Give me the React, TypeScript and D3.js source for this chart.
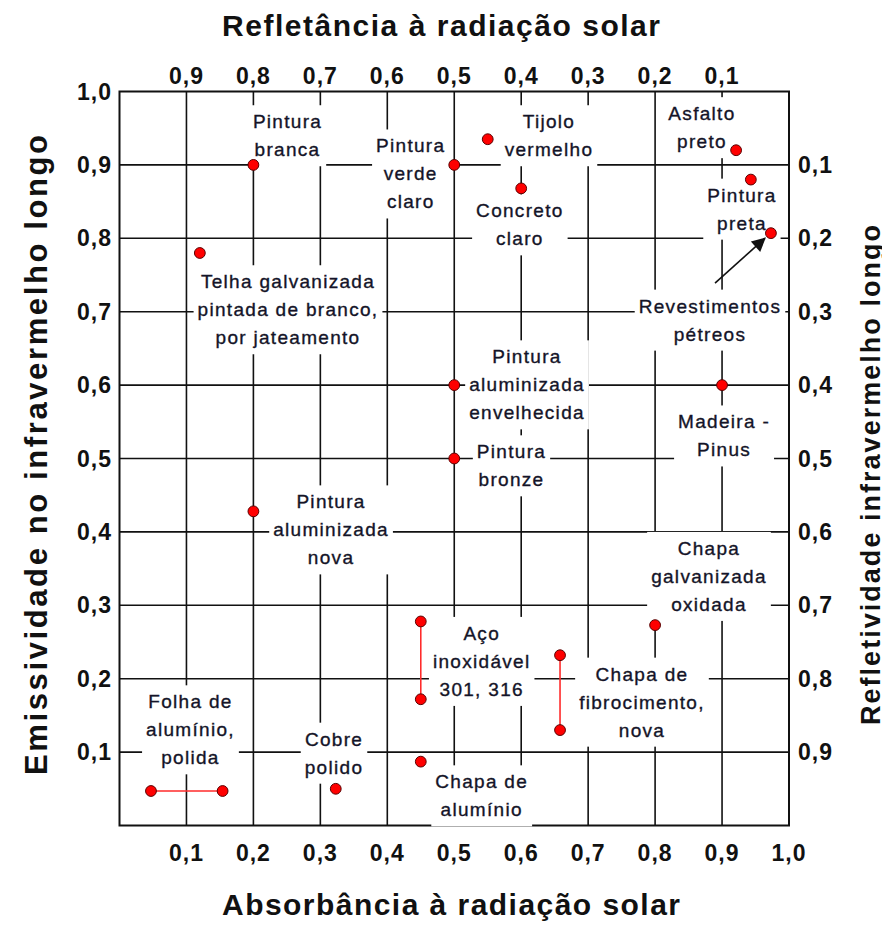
import React, { useEffect, useRef } from "react";
import * as d3 from "d3";

const W = 890;
const H = 925;

// Axis ticks
const gridValues = [0.1, 0.2, 0.3, 0.4, 0.5, 0.6, 0.7, 0.8, 0.9];
const absorbanceTickValues = [0.1, 0.2, 0.3, 0.4, 0.5, 0.6, 0.7, 0.8, 0.9, 1.0];
const absorbanceTickLabels = ["0,1", "0,2", "0,3", "0,4", "0,5", "0,6", "0,7", "0,8", "0,9", "1,0"];
const reflectanceTickValues = [0.1, 0.2, 0.3, 0.4, 0.5, 0.6, 0.7, 0.8, 0.9];
const reflectanceTickLabels = ["0,9", "0,8", "0,7", "0,6", "0,5", "0,4", "0,3", "0,2", "0,1"];
const emissivityTickValues = [1.0, 0.9, 0.8, 0.7, 0.6, 0.5, 0.4, 0.3, 0.2, 0.1];
const emissivityTickLabels = ["1,0", "0,9", "0,8", "0,7", "0,6", "0,5", "0,4", "0,3", "0,2", "0,1"];
const reflectivityTickValues = [0.9, 0.8, 0.7, 0.6, 0.5, 0.4, 0.3, 0.2, 0.1];
const reflectivityTickLabels = ["0,1", "0,2", "0,3", "0,4", "0,5", "0,6", "0,7", "0,8", "0,9"];

// Material points (absorbance, emissivity)
const pointAbsorbance = [0.2, 0.12, 0.5, 0.55, 0.6, 0.921, 0.943, 0.973, 0.5, 0.5, 0.9, 0.2, 0.8, 0.45, 0.45, 0.658, 0.658, 0.45, 0.323, 0.047, 0.154];
const pointEmissivity = [0.9, 0.78, 0.9, 0.935, 0.868, 0.92, 0.88, 0.807, 0.6, 0.5, 0.6, 0.428, 0.273, 0.278, 0.172, 0.232, 0.13, 0.087, 0.05, 0.047, 0.047];
// Pairs of point indices joined by a red range line
const rangePairs: [number, number][] = [[13, 14], [15, 16], [19, 20]];

// Material labels
const labelTexts: string[][] = [
  ["Pintura", "branca"],
  ["Pintura", "verde", "claro"],
  ["Tijolo", "vermelho"],
  ["Concreto", "claro"],
  ["Asfalto", "preto"],
  ["Pintura", "preta"],
  ["Revestimentos", "pétreos"],
  ["Telha galvanizada", "pintada de branco,", "por jateamento"],
  ["Pintura", "aluminizada", "envelhecida"],
  ["Pintura", "bronze"],
  ["Madeira -", "Pinus"],
  ["Chapa", "galvanizada", "oxidada"],
  ["Pintura", "aluminizada", "nova"],
  ["Aço", "inoxidável", "301, 316"],
  ["Chapa de", "fibrocimento,", "nova"],
  ["Chapa de", "alumínio"],
  ["Folha de", "alumínio,", "polida"],
  ["Cobre", "polido"],
];
// label anchor (centre of first line) in data coordinates
const labelAbsorbance = [0.251, 0.435, 0.6415, 0.598, 0.87, 0.9297, 0.882, 0.2517, 0.6087, 0.5855, 0.903, 0.8805, 0.316, 0.541, 0.7804, 0.541, 0.106, 0.3204];
const labelEmissivity = [0.959, 0.926, 0.959, 0.8376, 0.97, 0.859, 0.7078, 0.741, 0.6387, 0.5093, 0.55, 0.3777, 0.4411, 0.2619, 0.2064, 0.0597, 0.1687, 0.1178];

// Arrow for "Revestimentos pétreos" (tail -> head)
const arrowAbsorbance = [0.8895, 0.964];
const arrowEmissivity = [0.739, 0.8];

const FONT = "'Liberation Sans', Arial, Helvetica, sans-serif";

export default function App() {
  const ref = useRef<SVGSVGElement | null>(null);

  useEffect(() => {
    const svg = d3.select(ref.current);
    svg.selectAll("*").remove();

    const x = d3.scaleLinear().domain([0, 1]).range([119.5, 789]);
    const y = d3.scaleLinear().domain([0, 1]).range([825.5, 91.5]);

    svg.append("rect").attr("width", W).attr("height", H).attr("fill", "#fff");

    const grid = svg.append("g").attr("stroke", "#111").attr("stroke-width", 1.6);
    grid.selectAll("line.v").data(gridValues).enter().append("line")
      .attr("x1", (d) => x(d)).attr("x2", (d) => x(d))
      .attr("y1", y(1)).attr("y2", y(0));
    grid.selectAll("line.h").data(gridValues).enter().append("line")
      .attr("y1", (d) => y(d)).attr("y2", (d) => y(d))
      .attr("x1", x(0)).attr("x2", x(1));
    grid.append("rect")
      .attr("x", x(0)).attr("y", y(1))
      .attr("width", x(1) - x(0)).attr("height", y(0) - y(1))
      .attr("fill", "none").attr("stroke-width", 2);

    // Material labels with white boxes
    const lineGap = 28;
    const labels = svg.append("g");
    labelTexts.forEach((lines, i) => {
      const g = labels.append("g");
      const rect = g.append("rect").attr("fill", "#fff");
      const cx = x(labelAbsorbance[i]);
      const cy = y(labelEmissivity[i]);
      lines.forEach((ln, j) => {
        g.append("text")
          .attr("x", cx)
          .attr("y", cy + j * lineGap)
          .attr("dy", "0.35em")
          .attr("text-anchor", "middle")
          .attr("font-family", FONT)
          .attr("font-size", 19)
          .attr("letter-spacing", 1.3)
          .attr("fill", "#141428")
          .attr("stroke", "#141428")
          .attr("stroke-width", 0.35)
          .text(ln);
      });
      const node = g.node() as SVGGElement;
      const bb = node.getBBox();
      rect.attr("x", bb.x - 4).attr("y", bb.y - 6)
        .attr("width", bb.width + 8).attr("height", bb.height + 12);
    });

    // Range lines
    svg.append("g").selectAll("line").data(rangePairs).enter().append("line")
      .attr("x1", (d) => x(pointAbsorbance[d[0]]))
      .attr("y1", (d) => y(pointEmissivity[d[0]]))
      .attr("x2", (d) => x(pointAbsorbance[d[1]]))
      .attr("y2", (d) => y(pointEmissivity[d[1]]))
      .attr("stroke", "#ff2a2a").attr("stroke-width", 1.6);

    // Points
    svg.append("g").selectAll("circle").data(pointAbsorbance).enter().append("circle")
      .attr("cx", (d) => x(d))
      .attr("cy", (_d, i) => y(pointEmissivity[i]))
      .attr("r", 5.4)
      .attr("fill", "#ff0000")
      .attr("stroke", "#5a0000")
      .attr("stroke-width", 1);

    // Arrow
    const defs = svg.append("defs");
    defs.append("marker").attr("id", "arrowhead")
      .attr("viewBox", "0 0 10 10").attr("refX", 9).attr("refY", 5)
      .attr("markerWidth", 18).attr("markerHeight", 14)
      .attr("markerUnits", "userSpaceOnUse")
      .attr("orient", "auto")
      .append("path").attr("d", "M0,0 L10,5 L0,10 z").attr("fill", "#111");
    svg.append("line")
      .attr("x1", x(arrowAbsorbance[0])).attr("y1", y(arrowEmissivity[0]))
      .attr("x2", x(arrowAbsorbance[1])).attr("y2", y(arrowEmissivity[1]))
      .attr("stroke", "#111").attr("stroke-width", 1.6)
      .attr("marker-end", "url(#arrowhead)");

    // Tick labels
    const tickStyle = (sel: any) => sel
      .attr("font-family", FONT).attr("font-size", 23).attr("font-weight", "bold")
      .attr("letter-spacing", 1).attr("fill", "#111");

    svg.append("g").selectAll("text").data(absorbanceTickValues).enter().append("text")
      .attr("x", (d) => x(d)).attr("y", 853).attr("dy", "0.35em")
      .attr("text-anchor", "middle").call(tickStyle)
      .text((_d, i) => absorbanceTickLabels[i]);

    svg.append("g").selectAll("text").data(reflectanceTickValues).enter().append("text")
      .attr("x", (d) => x(d)).attr("y", 76).attr("dy", "0.35em")
      .attr("text-anchor", "middle").call(tickStyle)
      .text((_d, i) => reflectanceTickLabels[i]);

    svg.append("g").selectAll("text").data(emissivityTickValues).enter().append("text")
      .attr("x", 112).attr("y", (d) => y(d)).attr("dy", "0.35em")
      .attr("text-anchor", "end").call(tickStyle)
      .text((_d, i) => emissivityTickLabels[i]);

    svg.append("g").selectAll("text").data(reflectivityTickValues).enter().append("text")
      .attr("x", 798).attr("y", (d) => y(d)).attr("dy", "0.35em")
      .attr("text-anchor", "start").call(tickStyle)
      .text((_d, i) => reflectivityTickLabels[i]);

    // Axis titles
    const titleStyle = (sel: any, size: number, len: number) => sel
      .attr("font-family", FONT).attr("font-size", size).attr("font-weight", "bold")
      .attr("fill", "#111").attr("text-anchor", "middle")
      .attr("textLength", len).attr("lengthAdjust", "spacing");

    svg.append("text").attr("x", 441).attr("y", 36)
      .call((s: any) => titleStyle(s, 30, 438))
      .text("Refletância à radiação solar");
    svg.append("text").attr("x", 451).attr("y", 915)
      .call((s: any) => titleStyle(s, 30, 458))
      .text("Absorbância à radiação solar");
    svg.append("text").attr("transform", "translate(47,455) rotate(-90)")
      .call((s: any) => titleStyle(s, 31, 640))
      .text("Emissividade no infravermelho longo");
    svg.append("text").attr("transform", "translate(880,475) rotate(-90)")
      .call((s: any) => titleStyle(s, 27, 500))
      .text("Refletividade infravermelho longo");
  }, []);

  return (
    <svg ref={ref} width={W} height={H} style={{ display: "block", margin: "-8px 0 0 -8px" }} />
  );
}
